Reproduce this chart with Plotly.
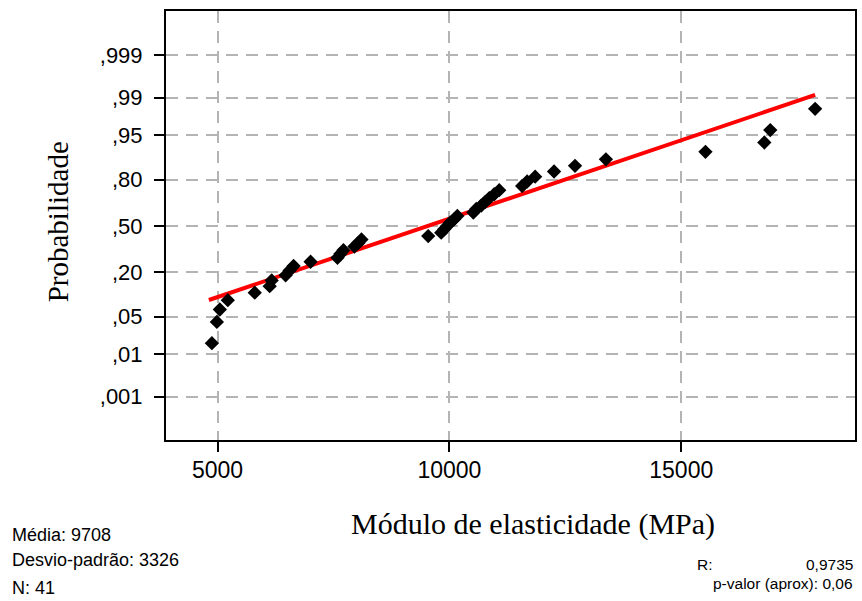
import plotly.graph_objects as go
from statistics import NormalDist

nd = NormalDist()

# Sorted sample values (MPa)
modulus = [4877, 4985, 5049, 5221, 5802, 6124, 6167, 6468, 6554, 6640,
           7006, 7586, 7651, 7715, 7952, 8038, 8103, 9543, 9823, 9887,
           9952, 10016, 10102, 10171, 10516, 10580, 10688, 10774, 10860, 10967,
           11075, 11569, 11677, 11849, 12257, 12709, 13375, 15522, 16791, 16920,
           17887]

# Fitted reference line endpoints (value, probability)
fit_x = [4813, 17887]
fit_prob = [0.090, 0.9912]

tick_probs = [0.001, 0.01, 0.05, 0.20, 0.50, 0.80, 0.95, 0.99, 0.999]
tick_labels = [",001", ",01", ",05", ",20", ",50", ",80", ",95", ",99", ",999"]
x_ticks = [5000, 10000, 15000]

stats_left = ["Média: 9708", "Desvio-padrão: 3326", "N: 41"]
r_value = "0,9735"
p_value = "p-valor (aprox): 0,06"

n = len(modulus)
# median-rank plotting positions of the normal probability plot
probs = [(i - 0.3) / (n + 0.4) for i in range(1, n + 1)]
z_pts = [nd.inv_cdf(p) for p in probs]
z_fit = [nd.inv_cdf(p) for p in fit_prob]
z_ticks = [nd.inv_cdf(p) for p in tick_probs]

fig = go.Figure()
fig.add_trace(go.Scatter(x=fit_x, y=z_fit, mode="lines",
                         line=dict(color="#ff0000", width=4), hoverinfo="skip"))
fig.add_trace(go.Scatter(x=modulus, y=z_pts, mode="markers",
                         marker=dict(symbol="diamond", size=11, color="black",
                                     line=dict(width=0))))

W, H = 862, 601
L, R, T, B = 166, 857, 11, 440

fig.update_layout(
    width=W, height=H,
    margin=dict(l=L, r=W - R, t=T, b=H - B, pad=0),
    plot_bgcolor="white", paper_bgcolor="white",
    showlegend=False,
    font=dict(family="Liberation Sans, Arial, sans-serif", color="black"),
)

fig.update_xaxes(
    range=[3888, 18747],
    tickvals=x_ticks, ticktext=[str(v) for v in x_ticks],
    ticks="outside", ticklen=10, tickwidth=2, tickcolor="black",
    tickfont=dict(size=23, family="Liberation Sans, Arial, sans-serif"),
    ticklabelstandoff=-2,
    showline=True, linecolor="black", linewidth=2, mirror=True,
    showgrid=True, gridcolor="#b4b4b4", gridwidth=2, griddash="12px,8px",
    zeroline=False,
)
fig.update_yaxes(
    range=[-3.877, 3.895],
    tickvals=z_ticks, ticktext=tick_labels,
    ticks="outside", ticklen=10, tickwidth=2, tickcolor="black",
    tickfont=dict(size=22, family="Liberation Sans, Arial, sans-serif"),
    ticklabelstandoff=7,
    showline=True, linecolor="black", linewidth=2, mirror=True,
    showgrid=True, gridcolor="#b4b4b4", gridwidth=2, griddash="12px,8px",
    zeroline=False,
)

def px_x(p):
    return (p - L) / (R - L)

def px_y(p):
    return (B - p) / (B - T)

ann = []
# axis titles
ann.append(dict(text="Probabilidade", x=px_x(58), y=px_y(222), xref="paper", yref="paper",
                textangle=-90, showarrow=False, xanchor="center", yanchor="middle",
                font=dict(family="Liberation Serif, Times New Roman, serif", size=29)))
ann.append(dict(text="Módulo de elasticidade (MPa)", x=px_x(534), y=px_y(524), xref="paper", yref="paper",
                showarrow=False, xanchor="center", yanchor="middle",
                font=dict(family="Liberation Serif, Times New Roman, serif", size=30)))
# stats
for txt, yy in zip(stats_left, [535, 560, 588]):
    ann.append(dict(text=txt, x=px_x(10), y=px_y(yy), xref="paper", yref="paper",
                    showarrow=False, xanchor="left", yanchor="middle",
                    font=dict(size=18)))
ann.append(dict(text="R:", x=px_x(697), y=px_y(564), xref="paper", yref="paper",
                showarrow=False, xanchor="left", yanchor="middle", font=dict(size=15.5)))
ann.append(dict(text=r_value, x=px_x(857), y=px_y(564), xref="paper", yref="paper",
                showarrow=False, xanchor="right", yanchor="middle", font=dict(size=15.5)))
ann.append(dict(text=p_value, x=px_x(857), y=px_y(583), xref="paper", yref="paper",
                showarrow=False, xanchor="right", yanchor="middle", font=dict(size=15.5)))
fig.update_layout(annotations=ann)

fig.write_html("out.html")
